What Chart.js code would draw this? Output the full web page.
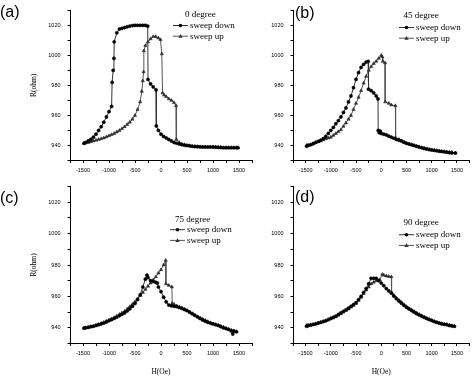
<!DOCTYPE html>
<html>
<head>
<meta charset="utf-8">
<script src="https://cdn.jsdelivr.net/npm/chart.js@4.4.1/dist/chart.umd.min.js"></script>
<style>
body{margin:0;background:#fff;}
#wrap{position:relative;width:474px;height:378px;overflow:hidden;}
canvas{position:absolute;left:0;top:0;}
</style>
</head>
<body>
<div id="wrap">
<canvas id="chart-a" width="474" height="378"></canvas>
<canvas id="chart-b" width="474" height="378"></canvas>
<canvas id="chart-c" width="474" height="378"></canvas>
<canvas id="chart-d" width="474" height="378"></canvas>
</div>
<script>
'use strict';
// tick labels shared by the four panels
let xTickLabels = [-1500, -1000, -500, 0, 500, 1000, 1500];
let yTickLabels = [940, 960, 980, 1000, 1020];
let seriesNames = ['sweep down', 'sweep up'];
let angleNames = ['0 degree', '45 degree', '75 degree', '90 degree'];

// (a) 0 degree
let aDownH = [-1480, -1450, -1400, -1350, -1300, -1250, -1200, -1150, -1100, -1050, -1000, -950, -940, -920, -905, -900, -850, -800, -750, -700, -650, -600, -550, -500, -450, -400, -350, -300, -255, -250, -200, -150, -95, -90, -50, 0, 50, 100, 150, 200, 250, 300, 350, 400, 450, 500, 550, 600, 650, 700, 750, 800, 850, 900, 950, 1000, 1050, 1100, 1150, 1200, 1250, 1300, 1350, 1400, 1450, 1480];
let aDownR = [941.5, 942, 943, 944, 945.5, 947.5, 950, 952.5, 955.5, 959, 962.5, 966, 982, 990, 998, 1009, 1015, 1017.5, 1018, 1018.5, 1019, 1019.5, 1019.8, 1020, 1020, 1020, 1020, 1020, 1019.5, 984, 981, 979, 977, 953, 950, 947.5, 946, 945, 944, 943, 942, 941.5, 941, 940.5, 940.2, 940, 939.8, 939.5, 939.3, 939.2, 939.1, 939, 939, 939, 939, 939, 938.9, 938.8, 938.7, 938.5, 938.5, 938.5, 938.5, 938.5, 938.5, 938.5];
let aUpH = [-1480, -1450, -1400, -1350, -1300, -1250, -1200, -1150, -1100, -1050, -1000, -950, -900, -850, -800, -750, -700, -650, -600, -550, -500, -450, -400, -370, -350, -335, -330, -300, -250, -200, -150, -100, -50, -10, 15, 30, 60, 100, 150, 200, 250, 290, 295, 350, 400, 450, 500, 550, 600, 650, 700, 750, 800, 850, 900, 950, 1000, 1050, 1100, 1150, 1200, 1250, 1300, 1350, 1400, 1450, 1480];
let aUpR = [941.5, 941.7, 942, 942.5, 943, 943.5, 944, 944.5, 945, 945.7, 946.5, 947.2, 948, 949, 950, 951.2, 952.5, 954, 955.5, 957.5, 960, 964, 969, 976, 983, 989, 1003, 1006.5, 1009, 1011, 1012.5, 1012.5, 1011.5, 1010.5, 1001, 975, 973.5, 972.5, 971, 970, 968.5, 966.5, 944, 942, 941, 940.5, 940, 939.8, 939.5, 939.3, 939.2, 939.1, 939, 939, 939, 939, 939, 938.9, 938.8, 938.7, 938.5, 938.5, 938.5, 938.5, 938.5, 938.5, 938.5];

// (b) 45 degree
let bDownH = [-1480, -1450, -1400, -1350, -1300, -1250, -1200, -1150, -1100, -1050, -1000, -950, -900, -850, -800, -750, -700, -650, -600, -550, -500, -450, -400, -350, -300, -260, -252, -200, -150, -100, -65, -60, -40, -20, 0, 50, 100, 150, 200, 250, 300, 350, 400, 450, 500, 550, 600, 650, 700, 750, 800, 850, 900, 950, 1000, 1050, 1100, 1150, 1200, 1250, 1300, 1350, 1400, 1470];
let bDownR = [939.5, 940, 940.5, 941.2, 942, 942.8, 943.5, 944.5, 946, 948, 950, 952, 954.5, 956.5, 959, 962, 965, 969, 973, 978.5, 984, 988.5, 992, 994, 995.5, 996, 977.5, 976.5, 975, 973, 971, 950, 948.5, 949.5, 948, 947.5, 947, 946.2, 945.5, 944.8, 944, 943.5, 943, 942.2, 941.5, 941, 940.5, 940, 939.5, 939, 938.5, 938, 937.7, 937.3, 937, 936.8, 936.5, 936.2, 936, 935.8, 935.5, 935.2, 935, 935];
let bUpH = [-1480, -1450, -1400, -1350, -1300, -1250, -1200, -1150, -1100, -1050, -1000, -950, -900, -850, -800, -750, -700, -650, -600, -550, -500, -450, -400, -350, -300, -250, -200, -150, -100, -50, 0, 20, 30, 75, 78, 150, 200, 280, 285, 350, 400, 450, 500, 550, 600, 650, 700, 750, 800, 850, 900, 950, 1000, 1050, 1100, 1150, 1200, 1250, 1300, 1350, 1400, 1470];
let bUpR = [940, 940.2, 940.5, 941.2, 942, 942.5, 943, 943.8, 944.5, 945, 945.5, 946.7, 948, 949.2, 950.5, 952.7, 955, 957.5, 960, 964, 968, 972, 976.5, 981.5, 986, 990, 992.5, 994.5, 996, 998, 1000, 999, 996, 995, 969, 968, 967, 966.5, 945, 944, 943, 942.2, 941.5, 941, 940.5, 940, 939.5, 939, 938.5, 938.2, 937.8, 937.4, 937, 936.8, 936.5, 936.3, 936, 935.8, 935.7, 935.5, 935.5, 935];

// (c) 75 degree
let cDownH = [-1480, -1450, -1400, -1350, -1300, -1250, -1200, -1150, -1100, -1050, -1000, -950, -900, -850, -800, -750, -700, -650, -600, -550, -500, -450, -400, -350, -300, -270, -250, -200, -150, -100, -70, -50, 0, 50, 100, 150, 200, 250, 300, 350, 400, 450, 500, 550, 600, 650, 700, 750, 800, 850, 900, 950, 1000, 1050, 1100, 1150, 1200, 1250, 1300, 1350, 1380, 1400, 1450];
let cDownR = [939.8, 940, 940.3, 940.7, 941, 941.5, 942, 942.5, 943, 943.7, 944.5, 945.2, 946, 946.8, 947.7, 948.6, 949.5, 950.7, 952, 953.7, 955.5, 958, 961, 966, 971, 973.5, 972, 970, 969.5, 969, 968.5, 966, 963, 959.5, 956.5, 954.5, 954, 953.7, 953.5, 953, 952.5, 951.7, 951, 950, 949, 948, 947, 946, 945, 944.2, 943.5, 943, 942.5, 942, 941.5, 940.7, 940, 939.5, 939, 938, 936, 938, 937.5];
let cUpH = [-1480, -1450, -1400, -1350, -1300, -1250, -1200, -1150, -1100, -1050, -1000, -950, -900, -850, -800, -750, -700, -650, -600, -550, -500, -450, -400, -350, -300, -250, -200, -150, -100, -50, 0, 50, 90, 95, 150, 210, 215, 250, 300, 350, 400, 450, 500, 550, 600, 650, 700, 750, 800, 850, 900, 950, 1000, 1050, 1100, 1150, 1200, 1250, 1300, 1350, 1400, 1450];
let cUpR = [939.8, 940, 940.3, 940.7, 941, 941.6, 942.2, 942.8, 943.5, 944.2, 945, 945.7, 946.5, 947.5, 948.5, 949.5, 950.5, 952, 953.5, 955, 956.5, 958.5, 960.5, 962.5, 964.5, 966.5, 968.5, 970.5, 972.5, 974.8, 977, 980, 983, 968, 967, 966, 955.5, 955, 954, 953.2, 952.5, 951.7, 951, 950, 949, 948, 947, 946.2, 945.5, 944.7, 944, 943.2, 942.5, 942, 941.5, 941, 940.5, 939.7, 939, 938.5, 938, 937.5];

// (d) 90 degree
let dDownH = [-1480, -1450, -1400, -1350, -1300, -1250, -1200, -1150, -1100, -1050, -1000, -950, -900, -850, -800, -750, -700, -650, -600, -550, -500, -450, -400, -350, -300, -250, -200, -150, -100, -50, 0, 50, 100, 150, 200, 250, 300, 350, 400, 450, 500, 550, 600, 650, 700, 750, 800, 850, 900, 950, 1000, 1050, 1100, 1150, 1200, 1250, 1300, 1350, 1400, 1450];
let dDownR = [941, 941.3, 941.7, 942.1, 942.5, 943, 943.5, 944, 944.5, 945.2, 946, 946.7, 947.5, 948.5, 949.5, 950.5, 951.5, 952.5, 953.7, 954.8, 956, 958, 960, 962.5, 965, 968, 971.5, 971.5, 971.5, 970, 968.5, 966.8, 965, 963.5, 962, 960.2, 958.5, 957, 955.7, 954.3, 953, 952, 951, 950, 949, 948.2, 947.5, 946.7, 946, 945.3, 944.7, 944, 943.5, 943, 942.5, 942.2, 942, 941.5, 941.2, 941];
let dUpH = [-1480, -1450, -1400, -1350, -1300, -1250, -1200, -1150, -1100, -1050, -1000, -950, -900, -850, -800, -750, -700, -650, -600, -550, -500, -450, -400, -350, -300, -250, -200, -150, -100, -30, 20, 50, 100, 150, 200, 205, 250, 300, 350, 400, 450, 500, 550, 600, 650, 700, 750, 800, 850, 900, 950, 1000, 1050, 1100, 1150, 1200, 1250, 1300, 1350, 1400, 1450];
let dUpR = [941.5, 941.7, 942, 942.2, 942.5, 943, 943.5, 944, 944.5, 945.2, 945.8, 946.4, 947, 948, 949, 950, 951, 952, 953.2, 954.3, 955.5, 957.5, 959.5, 961.8, 964, 966, 968, 969, 970, 970.5, 974, 973.5, 973, 972.7, 972.5, 962.5, 960.7, 959, 957.6, 956.2, 954.8, 953.5, 952.5, 951.5, 950.5, 949.5, 948.6, 947.7, 946.8, 946, 945.3, 944.6, 944, 943.5, 943, 942.6, 942.3, 942, 941.6, 941.3, 941];

function toPoints(hs, rs) {
  return hs.map(function (h, i) { return {x: h, y: rs[i]}; });
}

// legend + panel letter, drawn after the chart
let panelDecor = {
  id: 'panelDecor',
  afterDraw(chart, args, opts) {
    let ctx = chart.ctx;
    ctx.save();
    ctx.fillStyle = '#000';
    ctx.textBaseline = 'middle';
    ctx.textAlign = 'left';
    ctx.font = '16px "Liberation Sans"';
    ctx.fillText(opts.letter, opts.letterX, opts.letterY);
    ctx.font = '9px "Liberation Serif"';
    ctx.fillText(opts.degree, opts.tx, opts.ty);
    chart.data.datasets.forEach(function (ds, i) {
      let y = opts.ly + i * 10.7;
      ctx.strokeStyle = ds.borderColor;
      ctx.lineWidth = 1;
      ctx.beginPath();
      ctx.moveTo(opts.lx, y);
      ctx.lineTo(opts.lx + 15, y);
      ctx.stroke();
      let cx = opts.lx + 7.5;
      ctx.fillStyle = ds.pointBackgroundColor;
      ctx.beginPath();
      if (ds.pointStyle === 'circle') {
        ctx.arc(cx, y, 1.8, 0, Math.PI * 2);
      } else {
        ctx.moveTo(cx, y - 2.2);
        ctx.lineTo(cx + 2.2, y + 1.6);
        ctx.lineTo(cx - 2.2, y + 1.6);
        ctx.closePath();
      }
      ctx.fill();
      ctx.fillStyle = '#000';
      ctx.fillText(ds.label, opts.lx + 17, y);
    });
    ctx.restore();
  }
};

let panels = [
  {id: 'chart-a', letter: '(a)', deg: 0, down: [aDownH, aDownR], up: [aUpH, aUpR],
   area: {l: 70, r: 252, t: 2.5, b: 160.5}, yTitle: true, xTitle: false,
   decor: {letterX: 0, letterY: 13, tx: 185, ty: 15, lx: 173, ly: 25.5}},
  {id: 'chart-b', letter: '(b)', deg: 1, down: [bDownH, bDownR], up: [bUpH, bUpR],
   area: {l: 293, r: 472, t: 2.5, b: 160.5}, yTitle: false, xTitle: false,
   decor: {letterX: 295, letterY: 14, tx: 403.5, ty: 15.5, lx: 399, ly: 27.5}},
  {id: 'chart-c', letter: '(c)', deg: 2, down: [cDownH, cDownR], up: [cUpH, cUpR],
   area: {l: 70, r: 252, t: 186.5, b: 343.5}, yTitle: true, xTitle: true,
   decor: {letterX: 0, letterY: 199, tx: 175, ty: 219.5, lx: 170, ly: 229.7}},
  {id: 'chart-d', letter: '(d)', deg: 3, down: [dDownH, dDownR], up: [dUpH, dUpR],
   area: {l: 293, r: 472, t: 186.5, b: 343.5}, yTitle: false, xTitle: true,
   decor: {letterX: 295, letterY: 198, tx: 403.5, ty: 223, lx: 399, ly: 234.7}}
];

Chart.defaults.font.family = '"Liberation Sans", Arial, sans-serif';
Chart.defaults.color = '#000';

panels.forEach(function (p) {
  let yw = 40;
  let xh = p.xTitle ? 33 : 20;
  let d = p.decor;
  new Chart(document.getElementById(p.id), {
    type: 'scatter',
    data: {
      datasets: [
        {
          label: seriesNames[0],
          data: toPoints(p.down[0], p.down[1]),
          showLine: true,
          borderColor: '#333',
          borderWidth: 1,
          pointStyle: 'circle',
          pointRadius: 1.6,
          pointBackgroundColor: '#000',
          pointBorderColor: '#000',
          pointBorderWidth: 0.5
        },
        {
          label: seriesNames[1],
          data: toPoints(p.up[0], p.up[1]),
          showLine: true,
          borderColor: '#555',
          borderWidth: 1,
          pointStyle: 'triangle',
          pointRadius: 1.9,
          pointBackgroundColor: '#333',
          pointBorderColor: '#222',
          pointBorderWidth: 0.5
        }
      ]
    },
    options: {
      responsive: false,
      animation: false,
      layout: {
        padding: {
          left: p.area.l - yw,
          right: 474 - p.area.r,
          top: p.area.t,
          bottom: 378 - p.area.b - xh
        }
      },
      scales: {
        x: {
          type: 'linear',
          min: -1750,
          max: 1750,
          afterFit: function (s) { s.height = xh; },
          ticks: {
            stepSize: 250,
            autoSkip: false,
            maxRotation: 0,
            padding: 4,
            font: {size: 5.5},
            callback: function (v) { return xTickLabels.includes(v) ? String(v) : ''; }
          },
          grid: {drawOnChartArea: false, drawTicks: true, tickLength: 2.5, color: '#000'},
          border: {color: '#000', width: 1},
          title: {display: p.xTitle, text: 'H(Oe)', padding: 0,
                  font: {family: '"Liberation Serif"', size: 7.5}}
        },
        y: {
          type: 'linear',
          min: 930,
          max: 1030,
          afterFit: function (s) { s.width = yw; },
          ticks: {
            stepSize: 10,
            autoSkip: false,
            padding: 7,
            font: {size: 5.5},
            callback: function (v) { return yTickLabels.includes(v) ? String(v) : ''; }
          },
          grid: {drawOnChartArea: false, drawTicks: true, tickLength: 2.5, color: '#000'},
          border: {color: '#000', width: 1},
          title: {display: p.yTitle, text: 'R(ohm)', padding: 0,
                  font: {family: '"Liberation Serif"', size: 7.5}}
        }
      },
      plugins: {
        legend: {display: false},
        tooltip: {enabled: false},
        panelDecor: {
          letter: p.letter, degree: angleNames[p.deg],
          letterX: d.letterX, letterY: d.letterY,
          tx: d.tx, ty: d.ty, lx: d.lx, ly: d.ly
        }
      }
    },
    plugins: [panelDecor]
  });
});
</script>
</body>
</html>
